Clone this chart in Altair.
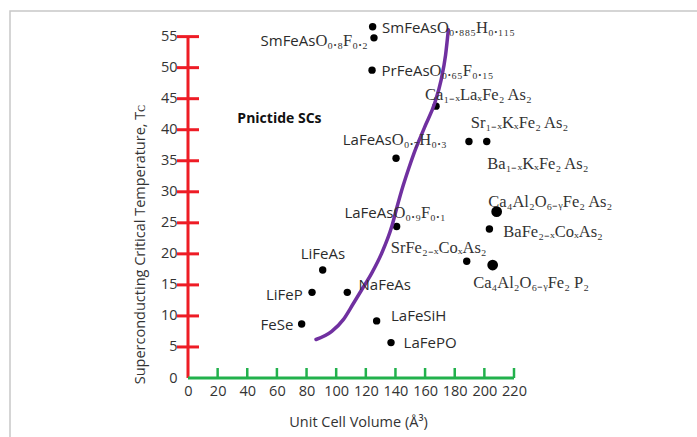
import altair as alt
import pandas as pd

# ---- data ----
compounds = ["SmFeAsO0.885H0.115", "SmFeAsO0.8F0.2", "PrFeAsO0.65F0.15", "Ca1-xLaxFe2As2",
             "Sr1-xKxFe2As2", "Ba1-xKxFe2As2", "LaFeAsO0.7H0.3", "LaFeAsO0.9F0.1",
             "Ca4Al2O6-yFe2As2", "BaFe2-xCoxAs2", "SrFe2-xCoxAs2", "Ca4Al2O6-yFe2P2",
             "LiFeAs", "LiFeP", "NaFeAs", "FeSe", "LaFeSiH", "LaFePO"]
volume = [124.6, 125.5, 124.2, 167.4, 189.6, 201.6, 140.4, 140.8, 208.3, 203.4,
          188.1, 205.6, 90.9, 83.7, 107.5, 76.7, 127.3, 137.0]
tc = [56.6, 54.8, 49.6, 43.8, 38.1, 38.1, 35.4, 24.4, 26.8, 24.0,
      18.8, 18.2, 17.4, 13.8, 13.8, 8.7, 9.2, 5.7]
dot_kind = ["small"] * 8 + ["big", "small", "small", "big"] + ["small"] * 6

curve_volume = [86.4, 97.0, 104.8, 111.6, 117.2, 124.0, 130.7, 137.5, 141.0, 145.2,
                149.0, 152.5, 159.5, 166.5, 170.8, 173.8, 175.7]
curve_tc = [6.2, 7.5, 9.4, 12.0, 14.2, 16.9, 20.1, 24.4, 27.5, 31.0,
            33.8, 36.2, 40.3, 44.3, 48.0, 52.0, 56.1]

# label: sans part (ends at anchor) + serif part (starts at anchor)
label_sans = ["SmFeAs", "SmFeAs", "PrFeAs", "", "", "", "LaFeAs", "LaFeAs",
              "", "", "", "", "LiFeAs", "LiFeP", "NaFeAs", "FeSe", "LaFeSiH", "LaFePO"]
label_serif = ["O₀.₈₈₅H₀.₁₁₅", "O₀.₈F₀.₂", "O₀.₆₅F₀.₁₅", "Ca₁₋ₓLaₓFe₂ As₂",
               "Sr₁₋ₓKₓFe₂ As₂", "Ba₁₋ₓKₓFe₂ As₂", "O₀.₇H₀.₃", "O₀.₉F₀.₁",
               "Ca₄Al₂O₆₋ᵧFe₂ As₂", "BaFe₂₋ₓCoₓAs₂", "SrFe₂₋ₓCoₓAs₂", "Ca₄Al₂O₆₋ᵧFe₂ P₂",
               "", "", "", "", "", ""]
label_x = [168.0, 86.0, 163.0, 160.0, 190.8, 202.0, 137.5, 138.6,
           202.7, 212.8, 136.8, 192.5, 106.0, 77.4, 150.5, 71.1, 174.4, 181.3]
label_y = [56.4, 54.3, 49.4, 45.6, 41.1, 34.4, 38.4, 26.6,
           28.4, 23.6, 20.9, 15.3, 20.0, 13.4, 15.0, 8.5, 10.0, 5.7]

note_text = ["Pnictide SCs"]
note_x = [33.3]
note_y = [41.8]

x_tick_values = [0, 20, 40, 60, 80, 100, 120, 140, 160, 180, 200, 220]
y_tick_values = [0, 5, 10, 15, 20, 25, 30, 35, 40, 45, 50, 55]
x_axis_span = [0, 220]
y_axis_span = [0, 55]

RED = "#ee1c25"
GREEN = "#22b14c"
PURPLE = "#7030a0"

points_df = pd.DataFrame({"compound": compounds, "volume": volume, "tc": tc, "kind": dot_kind})
curve_df = pd.DataFrame({"volume": curve_volume, "tc": curve_tc, "i": list(range(len(curve_tc)))})
labels_df = pd.DataFrame({"sans": label_sans, "serif": label_serif, "volume": label_x, "tc": label_y})
note_df = pd.DataFrame({"text": note_text, "volume": note_x, "tc": note_y})
yticks_df = pd.DataFrame({"tc": y_tick_values[1:], "volume": [0] * (len(y_tick_values) - 1)})
xticks_df = pd.DataFrame({"volume": x_tick_values[1:], "tc": [0] * (len(x_tick_values) - 1)})
yline_df = pd.DataFrame({"volume": [0], "tc": [y_axis_span[0]], "tc2": [y_axis_span[1]]})
xline_df = pd.DataFrame({"tc": [0], "volume": [x_axis_span[0]], "volume2": [x_axis_span[1]]})

xs = alt.Scale(domain=[0, 220], nice=False, zero=False)
ys = alt.Scale(domain=[0, 58], nice=False, zero=False)

X_AXIS = alt.Axis(values=x_tick_values, title="Unit Cell Volume (Å³)", labelPadding=6,
                  labelOverlap=False, labelFlush=False, titleX=170, titleY=44, titleBaseline="middle")
Y_AXIS = alt.Axis(values=y_tick_values, title="Superconducting Critical Temperature, Tᴄ",
                  labelPadding=11, labelOverlap=False, labelFlush=False, titleX=-48, titleY=226,
                  titleAngle=270, titleAlign="center", titleBaseline="middle")


def X(field="volume:Q"):
    return alt.X(field, scale=xs, axis=X_AXIS)


def Y(field="tc:Q"):
    return alt.Y(field, scale=ys, axis=Y_AXIS)


frame = alt.Chart(pd.DataFrame({"a": [0]})).mark_rect(
    fillOpacity=0, stroke="#c8c8c8", strokeWidth=1.5
).encode(x=alt.value(-178), x2=alt.value(530), y=alt.value(-7), y2=alt.value(440))

yline = alt.Chart(yline_df).mark_rule(color=RED, strokeWidth=3).encode(x=X(), y=Y(), y2="tc2:Q")
yticks = alt.Chart(yticks_df).mark_tick(orient="horizontal", size=22, thickness=3, color=RED, opacity=1).encode(
    x=X(), y=Y())
xline = alt.Chart(xline_df).mark_rule(color=GREEN, strokeWidth=3).encode(x=X(), x2="volume2:Q", y=Y())
xticks = alt.Chart(xticks_df).mark_tick(orient="vertical", size=10, thickness=2.5, color=GREEN, opacity=1,
                                        yOffset=-5).encode(x=X(), y=Y())

curve = alt.Chart(curve_df).mark_line(color=PURPLE, strokeWidth=3.5, strokeCap="round",
                                      interpolate="monotone").encode(x=X(), y=Y(), order="i:Q")

points = alt.Chart(points_df).mark_circle(color="black", opacity=1).encode(
    x=X(), y=Y(),
    size=alt.Size("kind:N", scale=alt.Scale(domain=["small", "big"], range=[55, 115]), legend=None),
)

sans_text = alt.Chart(labels_df).mark_text(
    align="right", baseline="middle", font="Open Sans", fontSize=15, color="#2b2b2b"
).encode(x=X(), y=Y(), text="sans:N")

serif_text = alt.Chart(labels_df).mark_text(
    align="left", baseline="middle", font="Liberation Serif", fontSize=16.5, color="#333333"
).encode(x=X(), y=Y(), text="serif:N")

note = alt.Chart(note_df).mark_text(
    align="left", baseline="middle", font="Open Sans", fontSize=14, fontWeight="bold", color="#111111"
).encode(x=X(), y=Y(), text="text:N")

chart = alt.layer(
    frame, points, yline, yticks, xline, xticks, curve, sans_text, serif_text, note
).properties(
    width=326, height=360,
    padding={"left": 188, "top": 18, "right": 183, "bottom": 59},
    autosize=alt.AutoSizeParams(type="none"),
).configure_view(stroke=None).configure_axis(
    grid=False, domain=False, ticks=False,
    labelFont="Open Sans", labelFontSize=14.5, labelColor="#333333",
    titleFont="Open Sans", titleFontSize=14.5, titleFontWeight="normal", titleColor="#333333",
)

chart.save("out.html", embed_options={"renderer": "svg", "actions": False})
